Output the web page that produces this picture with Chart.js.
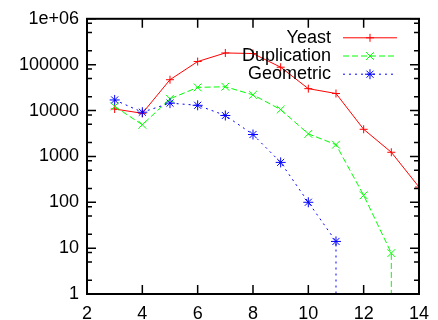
<!DOCTYPE html>
<html>
<head>
<meta charset="utf-8">
<script src="https://cdn.jsdelivr.net/npm/chart.js"></script>
<style>
  html, body { margin: 0; padding: 0; background: #fff; }
  canvas { display: block; }
</style>
</head>
<body>
<canvas id="grafico" width="438" height="320"></canvas>
<script>
// data
const yeastX = [3, 4, 5, 6, 7, 8, 9, 10, 11, 12, 13, 14];
const yeastY = [10800, 8700, 47000, 117000, 180000, 175000, 88000, 30000, 23500, 3900, 1230, 215];

// last point of the next two series falls below the axis (vertical drop)
const dupX = [3, 4, 5, 6, 7, 8, 9, 10, 11, 12, 13, 13];
const dupY = [12300, 4900, 18000, 32000, 33000, 22000, 10500, 3100, 1800, 142, 7.8, 0.1];

const geoX = [3, 4, 5, 6, 7, 8, 9, 10, 11, 11];
const geoY = [17000, 9200, 14500, 13000, 7800, 3000, 740, 100, 14, 0.1];

const xTicks = [2, 4, 6, 8, 10, 12, 14];
const yTicks = [1, 10, 100, 1000, 10000, 100000, 1000000];
const yTickLabels = ['1', '10', '100', '1000', '10000', '100000', '1e+06'];
const yMinor = [2, 5, 8];

const pares = (xs, ys) => xs.map((x, i) => ({ x: x, y: ys[i] }));
const raio = r => ctx => (ctx.raw && ctx.raw.y < 1 ? 0 : r);

Chart.defaults.font.family = "'Liberation Sans', Arial, sans-serif";
Chart.defaults.font.size = 18;
Chart.defaults.color = '#000';

const dados = {
  datasets: [
    {
      label: 'Yeast',
      data: pares(yeastX, yeastY),
      borderColor: '#ff0000',
      backgroundColor: '#ff0000',
      borderWidth: 1,
      pointStyle: 'cross',
      pointRadius: raio(4),
      pointBorderWidth: 1,
      order: 3
    },
    {
      label: 'Duplication',
      data: pares(dupX, dupY),
      borderColor: '#00ff00',
      backgroundColor: '#00ff00',
      borderWidth: 1,
      borderDash: [6, 3],
      pointStyle: 'crossRot',
      pointRadius: raio(5.5),
      pointBorderWidth: 1,
      order: 2
    },
    {
      label: 'Geometric',
      data: pares(geoX, geoY),
      borderColor: '#0000ff',
      backgroundColor: '#0000ff',
      borderWidth: 1,
      borderDash: [2, 4],
      pointStyle: 'star',
      pointRadius: raio(5),
      pointBorderWidth: 1,
      order: 1
    }
  ]
};

// frame with inward ticks on all four sides, like gnuplot
const moldura = {
  id: 'moldura',
  afterDatasetsDraw(chart) {
    const { ctx, chartArea: a, scales: { x, y } } = chart;
    ctx.save();
    ctx.strokeStyle = '#000';
    ctx.lineWidth = 1.5;
    ctx.beginPath();
    xTicks.forEach(v => {
      const px = x.getPixelForValue(v);
      ctx.moveTo(px, a.bottom); ctx.lineTo(px, a.bottom - 9);
      ctx.moveTo(px, a.top); ctx.lineTo(px, a.top + 9);
    });
    yTicks.forEach((v, i) => {
      const py = y.getPixelForValue(v);
      ctx.moveTo(a.left, py); ctx.lineTo(a.left + 9, py);
      ctx.moveTo(a.right, py); ctx.lineTo(a.right - 9, py);
      if (i < yTicks.length - 1) {
        yMinor.forEach(m => {
          const pm = y.getPixelForValue(v * m);
          ctx.moveTo(a.left, pm); ctx.lineTo(a.left + 5, pm);
          ctx.moveTo(a.right, pm); ctx.lineTo(a.right - 5, pm);
        });
      }
    });
    ctx.stroke();
    ctx.lineWidth = 2;
    ctx.strokeRect(a.left, a.top, a.width, a.height);
    ctx.restore();
  }
};

// gnuplot style key: text right aligned, sample line to the right
const legenda = {
  id: 'legenda',
  afterDatasetsDraw(chart) {
    const { ctx, chartArea: a } = chart;
    const textoX = a.right - 88;
    const linhaX0 = a.right - 76;
    const linhaX1 = a.right - 22;
    ctx.save();
    chart.data.datasets.forEach((ds, i) => {
      const yy = a.top + 19 + i * 18.2;
      ctx.font = "18px 'Liberation Sans', Arial, sans-serif";
      ctx.fillStyle = '#000';
      ctx.textAlign = 'right';
      ctx.textBaseline = 'middle';
      ctx.fillText(ds.label, textoX, yy);
      ctx.strokeStyle = ds.borderColor;
      ctx.lineWidth = 1;
      ctx.setLineDash(ds.borderDash || []);
      ctx.beginPath();
      ctx.moveTo(linhaX0, yy);
      ctx.lineTo(linhaX1, yy);
      ctx.stroke();
      ctx.setLineDash([]);
      const r = ds.pointStyle === 'cross' ? 4 : (ds.pointStyle === 'crossRot' ? 5.5 : 5);
      Chart.helpers.drawPoint(ctx, { pointStyle: ds.pointStyle, radius: r, rotation: 0, borderWidth: 1 },
        (linhaX0 + linhaX1) / 2, yy);
    });
    ctx.restore();
  }
};

const config = {
  type: 'line',
  data: dados,
  options: {
    responsive: false,
    animation: false,
    events: [],
    layout: { padding: { top: 17, right: 13, left: 0, bottom: 0 } },
    plugins: {
      legend: { display: false },
      tooltip: { enabled: false },
      title: { display: false }
    },
    scales: {
      x: {
        type: 'linear',
        min: 2,
        max: 14,
        grid: { display: false, drawTicks: false },
        border: { display: false },
        afterBuildTicks: s => { s.ticks = xTicks.map(v => ({ value: v })); },
        afterFit: s => { s.height = 26; },
        ticks: { padding: 9, maxRotation: 0, autoSkip: false }
      },
      y: {
        type: 'logarithmic',
        min: 1,
        max: 1000000,
        grid: { display: false, drawTicks: false },
        border: { display: false },
        afterBuildTicks: s => { s.ticks = yTicks.map(v => ({ value: v })); },
        afterFit: s => { s.width = 87; },
        ticks: {
          padding: 8,
          autoSkip: false,
          callback: (v, i) => yTickLabels[i]
        }
      }
    }
  },
  plugins: [moldura, legenda]
};

const instanciaGrafico = new Chart(document.getElementById('grafico'), config);
</script>
</body>
</html>
